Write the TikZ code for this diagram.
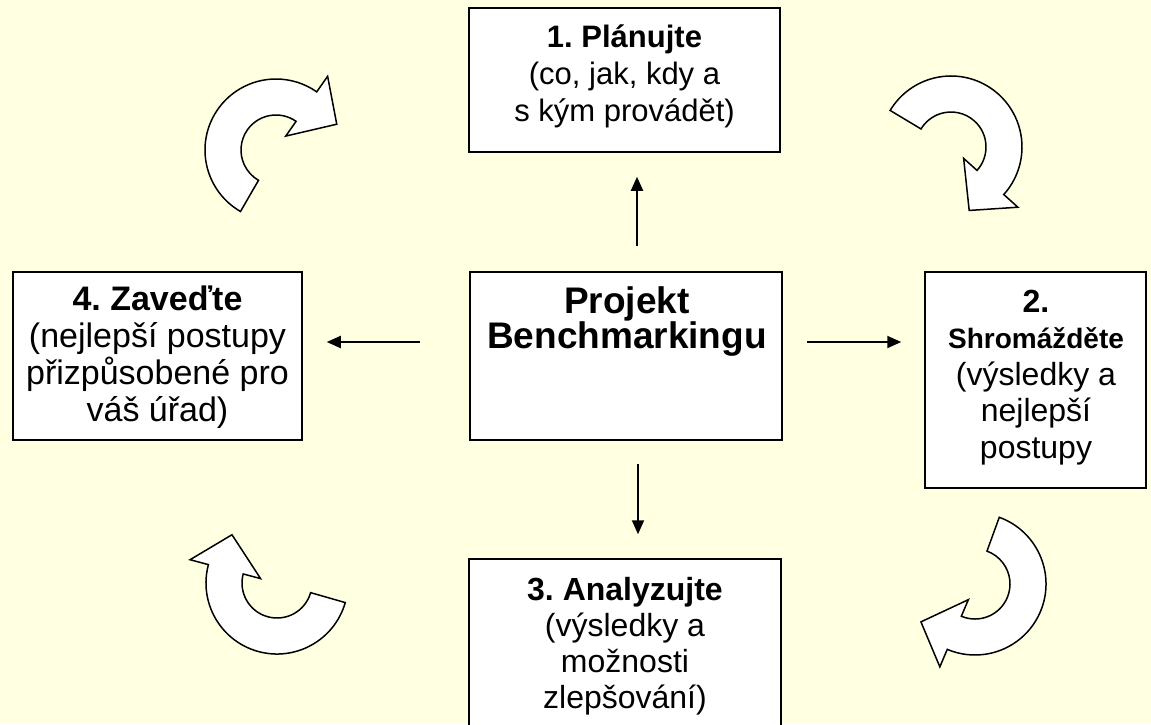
\documentclass[tikz,border=0pt]{standalone}
\usepackage{fontspec}
\setmainfont{Liberation Sans}
\usetikzlibrary{arrows.meta,calc}
\definecolor{bgyellow}{RGB}{255,255,225}
\frenchspacing
\newcommand\flowturn[4]{%
  \draw[turnarrow] ($(#1,#2)+(#3:71)$) arc[start angle=#3,end angle=#4,radius=71]
    -- ($(#1,#2)+(#4:90)$) -- ($(#1,#2)+(#4+32:66)$) -- ($(#1,#2)+(#4:17)$)
    -- ($(#1,#2)+(#4:35)$) arc[start angle=#4,end angle=#3,radius=35] -- cycle;}
\tikzset{
  box/.style={draw=black, line width=1.5pt, fill=white, inner sep=0pt},
  txt/.style={inner sep=0pt, anchor=base, font=\fontsize{32}{37}\selectfont},
  link/.style={line width=2pt, -{Triangle[length=14pt,width=12pt]}},
  turnarrow/.style={draw=black, line width=1.5pt, fill=white, line join=miter},
}
\begin{document}
\begin{tikzpicture}[x=1pt,y=-1pt]
\useasboundingbox (0,0) rectangle (1151,724);
\clip (0,0) rectangle (1151,724);
\fill[bgyellow] (0,0) rectangle (1151,724);

% boxes
\node[box, minimum width=311pt, minimum height=144pt] (plan) at (624.5,80) {};
\node[box, minimum width=312pt, minimum height=168pt] (core) at (626,356) {};
\node[box, minimum width=289pt, minimum height=168pt] (impl) at (157.5,356) {};
\node[box, minimum width=221pt, minimum height=216pt] (collect) at (1035.5,380) {};
\node[box, minimum width=312pt, minimum height=172pt] (analyze) at (625,645) {};

% texts
\node[txt] (plantext) at (624.5,47) {\parbox[t]{300pt}{\centering\fontsize{31}{37}\selectfont
  \textbf{1. Plánujte}\\(co, jak, kdy a\\s kým provádět)}};
\node[txt] (coretext) at (627,313) {\parbox[t]{310pt}{\centering\fontsize{37}{35}\selectfont
  \textbf{Projekt}\\\textbf{Benchmarkingu}}};
\node[txt] (impltext) at (157.5,310) {\parbox[t]{287pt}{\centering\fontsize{34}{37}\selectfont
  \textbf{4. Zaveďte}\\(nejlepší postupy\\přizpůsobené pro\\váš úřad)}};
\node[txt] (collecttext) at (1036,312) {\parbox[t]{218pt}{\centering\fontsize{32}{36.5}\selectfont
  \textbf{2.}\\{\fontsize{28}{36.5}\selectfont\bfseries Shromážděte}\\(výsledky a\\nejlepší\\postupy}};
\node[txt] (analyzetext) at (625,600) {\parbox[t]{300pt}{\centering\fontsize{32}{36}\selectfont
  \textbf{3. Analyzujte}\\(výsledky a\\možnosti\\zlepšování)}};

% straight connectors
\draw[link, shorten <=25pt, shorten >=24pt] ([xshift=11pt]core.north) -- ([xshift=11pt]core.north |- plan.south);
\draw[link, shorten <=23pt, shorten >=24pt] ([xshift=12pt]core.south) -- ([xshift=12pt]core.south |- analyze.north);
\draw[link, shorten <=24pt, shorten >=23pt] ([yshift=14pt]core.east) -- ([yshift=14pt]core.east -| collect.west);
\draw[link, shorten <=49pt, shorten >=24pt] ([yshift=14pt]core.west) -- ([yshift=14pt]core.west -| impl.east);

% curved cycle arrows
\flowturn{276}{150}{120}{305}
\flowturn{951}{147}{211}{402}
\flowturn{975}{584}{-70}{113}
\flowturn{277}{583}{16}{195}
\end{tikzpicture}
\end{document}
